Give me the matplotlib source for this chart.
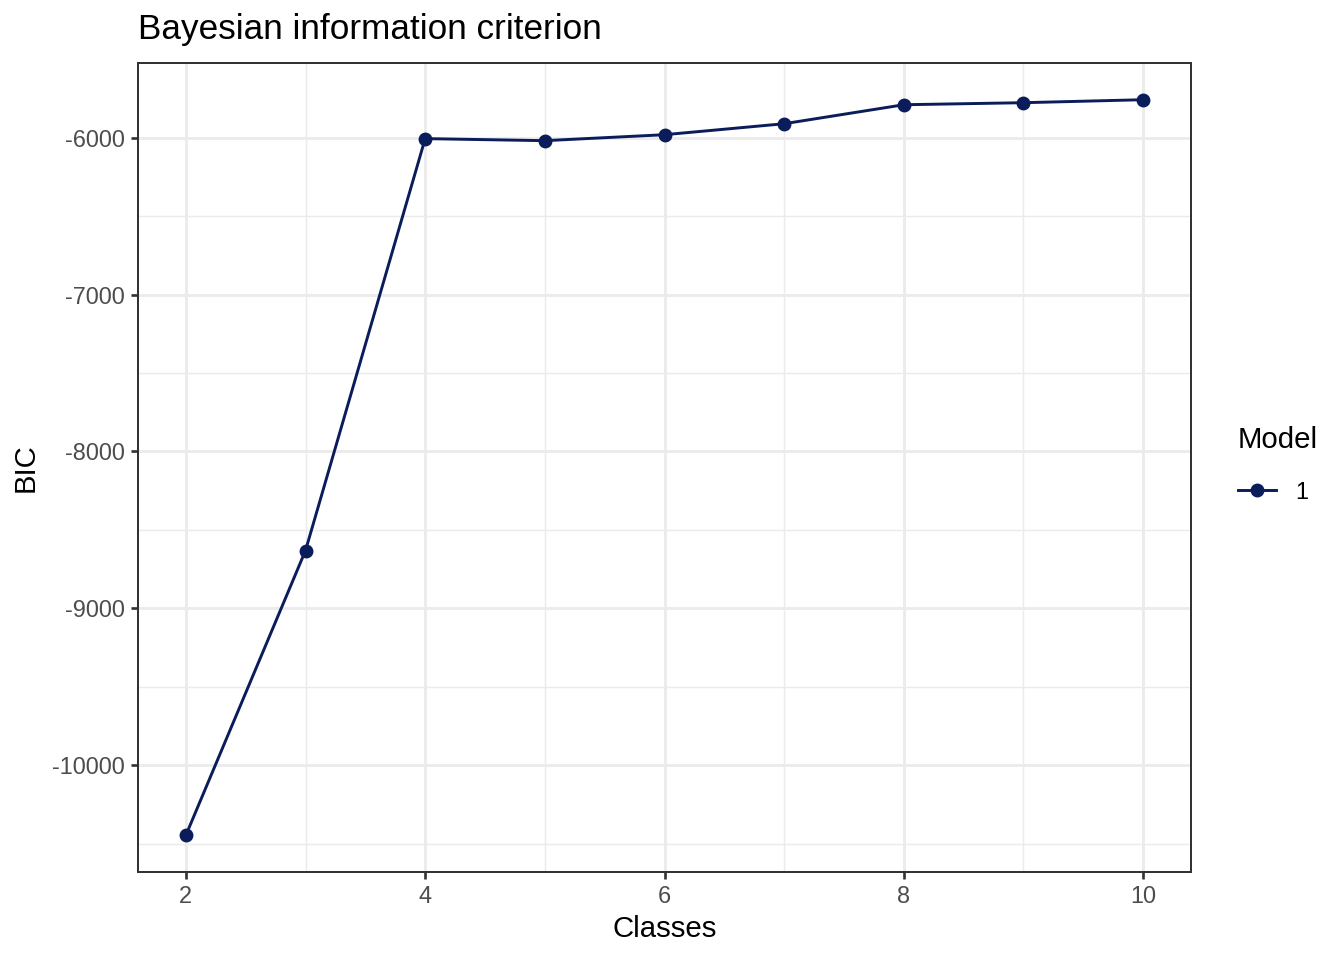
import matplotlib
matplotlib.use('Agg')
import matplotlib.pyplot as plt

# Valores
classes = [2, 3, 4, 5, 6, 7, 8, 9, 10]
bic = [-10446, -8631, -6006, -6019, -5981, -5911, -5790, -5777, -5758]
x_ticks = [2, 4, 6, 8, 10]
x_minor = [3, 5, 7, 9]
y_ticks = [-10000, -9000, -8000, -7000, -6000]
y_minor = [-10500, -9500, -8500, -7500, -6500]
model_label = '1'

cor = '#0B1C5B'
plt.rcParams['font.family'] = ['Liberation Sans', 'DejaVu Sans']

fig = plt.figure(figsize=(7, 5), dpi=192)
ax = fig.add_axes([138 / 1344, 1 - 872 / 960, (1191 - 138) / 1344, (872 - 63) / 960])

ax.plot(classes, bic, color=cor, linewidth=1.1, marker='o', markersize=4.2, label=model_label, zorder=3)

ax.set_xlim(1.6, 10.4)
ax.set_ylim(-10680, -5524)
ax.set_xticks(x_ticks)
ax.set_xticks(x_minor, minor=True)
ax.set_yticks(y_ticks)
ax.set_yticks(y_minor, minor=True)
ax.set_xticklabels([str(v) for v in x_ticks])
ax.set_yticklabels([str(v) for v in y_ticks])

ax.grid(True, which='major', color='#EBEBEB', linewidth=1.07, zorder=0)
ax.grid(True, which='minor', color='#EBEBEB', linewidth=0.55, zorder=0)
ax.set_axisbelow(True)
ax.tick_params(which='major', length=2.75, width=1.0, color='#333333', labelcolor='#4D4D4D', labelsize=8.8, pad=2.2)
ax.tick_params(which='minor', length=0)
for s in ax.spines.values():
    s.set_color('#333333')
    s.set_linewidth(0.75)

ax.set_xlabel('Classes', fontsize=11, labelpad=2.5)
ax.set_ylabel('BIC', fontsize=11, labelpad=4.5)
fig.text(138 / 1344, 1 - 29 / 960, 'Bayesian information criterion', fontsize=13.2, ha='left', va='center')

leg = ax.legend(title='Model', loc='upper left', bbox_to_anchor=(1238 / 1344, 1 - 426 / 960),
                bbox_transform=fig.transFigure, frameon=False, fontsize=8.8, title_fontsize=11,
                handlelength=1.6, handletextpad=0.85, borderaxespad=0, borderpad=0, labelspacing=0.5)
leg._legend_box.align = 'left'
leg._legend_box.sep = 10

fig.savefig('out.png', dpi=192)
